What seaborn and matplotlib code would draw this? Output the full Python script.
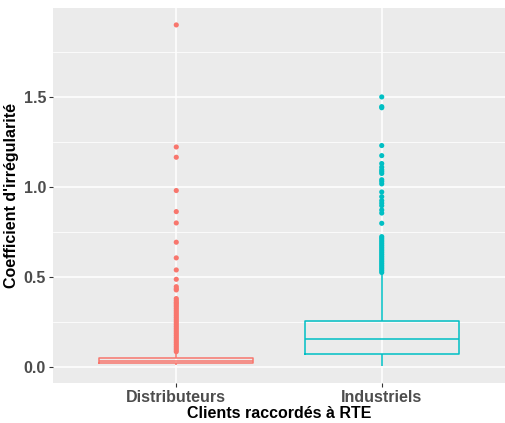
import numpy as np
import pandas as pd
import matplotlib
matplotlib.use("Agg")
import matplotlib.pyplot as plt
import seaborn as sns

# categories and colours (ggplot defaults)
categories = ["Distributeurs", "Industriels"]
colors = ["#F8766D", "#00BFC4"]

# five-number summaries: low whisker, Q1, median, Q3, high whisker
dist_box = [0.010, 0.022, 0.034, 0.048, 0.078]
ind_box = [0.005, 0.070, 0.157, 0.254, 0.520]

# outliers
dist_out = [1.90, 1.222, 1.165, 0.98, 0.863, 0.80, 0.693, 0.606, 0.539, 0.487,
            0.446, 0.435, 0.428, 0.38, 0.37, 0.36, 0.353,
            0.344, 0.335, 0.325, 0.315, 0.305, 0.295, 0.285, 0.275, 0.265,
            0.255, 0.245, 0.235, 0.225, 0.215, 0.205, 0.195, 0.185, 0.175,
            0.165, 0.155, 0.145, 0.135, 0.125, 0.115, 0.105, 0.095, 0.085]
ind_out = [1.50, 1.446, 1.44, 1.23, 1.174, 1.13, 1.11, 1.095, 1.085, 1.075,
           1.04, 1.03, 1.017, 0.972, 0.946, 0.924, 0.91, 0.896, 0.872, 0.855,
           0.798, 0.724, 0.715, 0.705, 0.695, 0.685, 0.675, 0.665, 0.655,
           0.645, 0.635, 0.625, 0.615, 0.605, 0.595, 0.585, 0.575, 0.565,
           0.555, 0.545, 0.535, 0.525]

box_df = pd.DataFrame({
    "Clients": [categories[0]] * len(dist_box) + [categories[1]] * len(ind_box),
    "Coef": dist_box + ind_box,
})
out_df = pd.DataFrame({
    "Clients": [categories[0]] * len(dist_out) + [categories[1]] * len(ind_out),
    "Coef": dist_out + ind_out,
})

plt.rcParams['font.family'] = ['Liberation Sans', 'DejaVu Sans']

fig = plt.figure(figsize=(5.06, 4.23), dpi=100)
ax = fig.add_axes([53 / 506, 1 - 383 / 423, 452 / 506, 375 / 423])
ax.set_facecolor("#EBEBEB")

sns.boxplot(data=box_df, x="Clients", y="Coef", hue="Clients", order=categories,
            hue_order=categories, palette=colors, fill=False, whis=(0, 100),
            showfliers=False, showcaps=False, width=0.75, linewidth=1.1,
            legend=False, ax=ax)
for p in ax.patches:
    p.set_fill(True)
    p.set_facecolor("white")

sns.stripplot(data=out_df, x="Clients", y="Coef", hue="Clients", order=categories,
              hue_order=categories, palette=colors, jitter=False, size=3.7,
              linewidth=0, legend=False, ax=ax)

ax.set_xlim(-0.6, 1.6)
ax.set_ylim(-0.089, 1.994)
ax.set_yticks([0.0, 0.5, 1.0, 1.5])
ax.set_yticks([0.25, 0.75, 1.25, 1.75], minor=True)
ax.set_yticklabels(["0.0", "0.5", "1.0", "1.5"])
ax.grid(which="major", color="white", linewidth=1.1)
ax.grid(which="minor", axis="y", color="white", linewidth=0.55)
ax.set_axisbelow(True)
for s in ax.spines.values():
    s.set_visible(False)

ax.tick_params(axis="both", which="major", length=3, color="#333333",
               labelcolor="#4D4D4D", labelsize=11.5, pad=2)
ax.tick_params(axis="y", which="minor", length=0)
for lab in ax.get_xticklabels() + ax.get_yticklabels():
    lab.set_fontweight("bold")

ax.set_xlabel("Clients raccordés à RTE", fontsize=11.5, fontweight="bold",
              color="black", labelpad=1)
ax.set_ylabel("Coefficient d'irrégularité", fontsize=11.5, fontweight="bold",
              color="black", labelpad=3)

fig.savefig("out.png", dpi=100)
